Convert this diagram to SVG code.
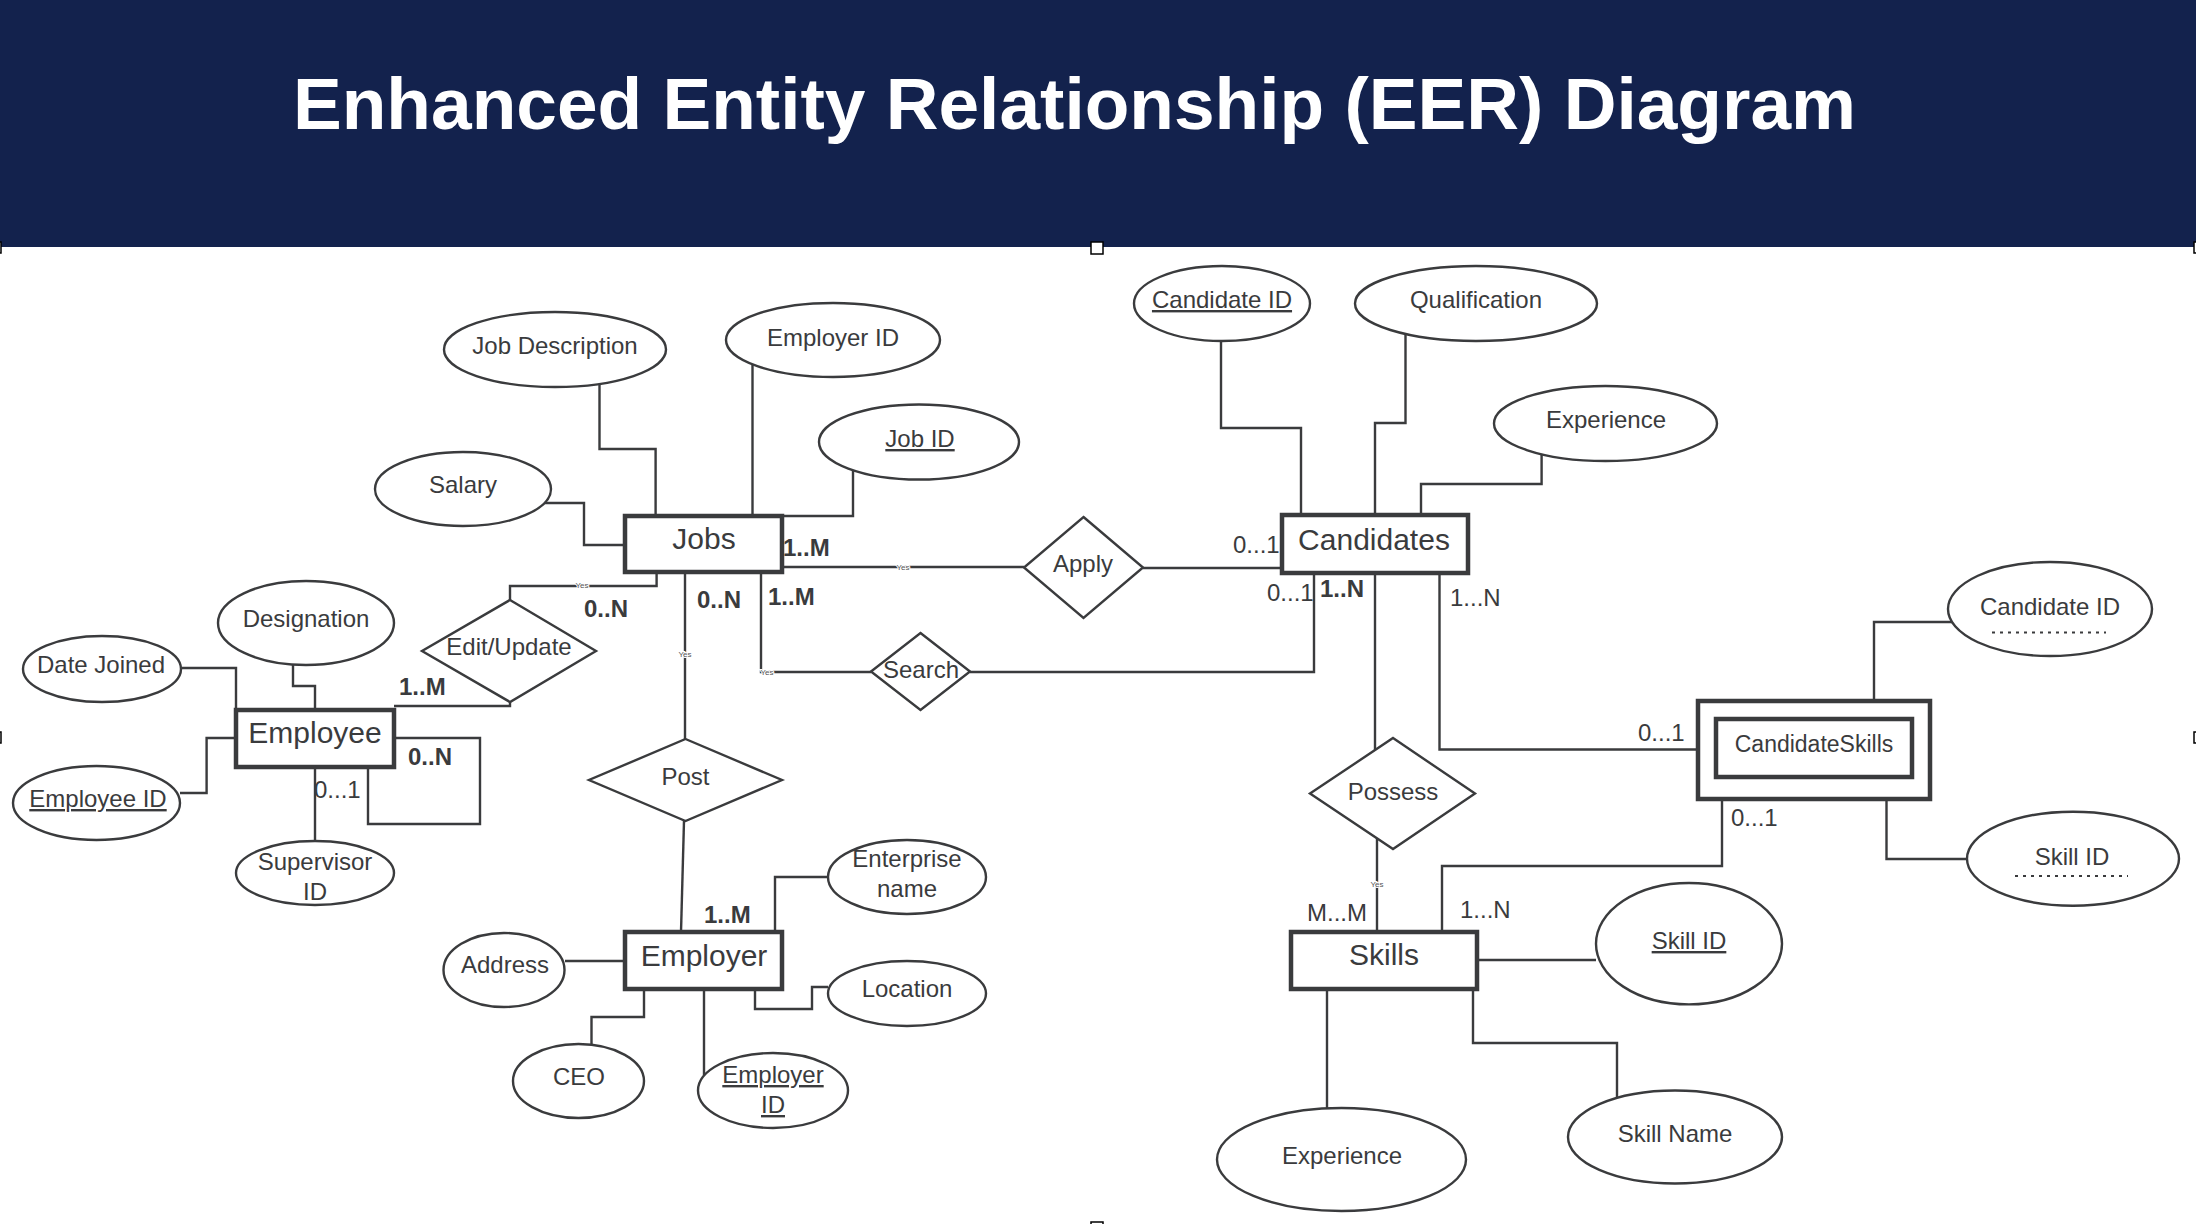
<svg xmlns="http://www.w3.org/2000/svg" width="2196" height="1224" viewBox="0 0 2196 1224">
<style>
text{font-family:"Liberation Sans",Arial,sans-serif;fill:#3a3b3d}
.t{font-size:24px;text-anchor:middle}
.e{font-size:30px;text-anchor:middle}
.c{font-size:24px}
.b{font-weight:bold}
.u{text-decoration:underline}
.yes{font-size:8px;text-anchor:middle;fill:#555;stroke:#fff;stroke-width:2px;paint-order:stroke}
.ent{fill:#fff;stroke:#3a3b3d;stroke-width:4.5}
.att{fill:#fff;stroke:#3a3b3d;stroke-width:2.4}
.rel{fill:#fff;stroke:#3a3b3d;stroke-width:2.4}
.ln{fill:none;stroke:#3a3b3d;stroke-width:2.4}
.dot{stroke:#3a3b3d;stroke-width:2;stroke-dasharray:3 5;fill:none}
.h{fill:#fff;stroke:#000;stroke-width:1.5}
</style>
<rect x="0" y="0" width="2196" height="247" fill="#13224d"/>
<text x="293" y="129" font-size="73" font-weight="bold" textLength="1563" lengthAdjust="spacingAndGlyphs" style="fill:#fff">Enhanced Entity Relationship (EER) Diagram</text>
<g id="handles">
<rect class="h" x="1091" y="242" width="12" height="12"/>
<rect class="h" x="-9" y="242" width="10" height="11"/>
<rect class="h" x="2194" y="242" width="10" height="11"/>
<rect class="h" x="-9" y="732" width="10" height="11"/>
<rect class="h" x="2194" y="732" width="10" height="11"/>
<rect class="h" x="1091" y="1222" width="12" height="10"/>
</g>
<g id="connectors">
<path class="ln" d="M599.5,384 V449 H655.6 V516"/>
<path class="ln" d="M752.5,364 V516"/>
<path class="ln" d="M853,470 V516 H782"/>
<path class="ln" d="M544.5,503 H584 V545 H625"/>
<path class="ln" d="M656.6,572 V586 H510 V600"/>
<path class="ln" d="M685,572 V739"/>
<path class="ln" d="M761,572 V672 H871"/>
<path class="ln" d="M782,567 H1024"/>
<path class="ln" d="M1143,568 H1282"/>
<path class="ln" d="M970,672 H1314 V573"/>
<path class="ln" d="M1221,341 V428 H1301 V515"/>
<path class="ln" d="M1405.5,334 V423 H1375 V515"/>
<path class="ln" d="M1541.6,454 V484 H1421 V515"/>
<path class="ln" d="M1375,573 V750"/>
<path class="ln" d="M1377,838 V932"/>
<path class="ln" d="M1439.5,573 V749.5 H1698"/>
<path class="ln" d="M1722,799 V866 H1442 V932"/>
<path class="ln" d="M1952,622 H1874 V701"/>
<path class="ln" d="M1886.5,799 V859 H1967"/>
<path class="ln" d="M1477,960 H1596"/>
<path class="ln" d="M1327,989 V1108"/>
<path class="ln" d="M1473,989 V1043 H1617 V1098"/>
<path class="ln" d="M181,668 H236 V710"/>
<path class="ln" d="M293,664 V686 H315 V710"/>
<path class="ln" d="M180,793 H206.6 V738 H236"/>
<path class="ln" d="M315,767 V841"/>
<path class="ln" d="M394,738 H480 V824 H368 V767"/>
<path class="ln" d="M394,706 H510 V702"/>
<path class="ln" d="M684,821 L681,932"/>
<path class="ln" d="M828,877 H775 V932"/>
<path class="ln" d="M828,987 H812 V1009 H755 V989"/>
<path class="ln" d="M565,961 H625"/>
<path class="ln" d="M591.5,1045 V1017 H644 V989"/>
<path class="ln" d="M704,989 V1075"/>
<text class="yes" x="582" y="588">Yes</text>
<text class="yes" x="685" y="657">Yes</text>
<text class="yes" x="767" y="675">Yes</text>
<text class="yes" x="903" y="570">Yes</text>
<text class="yes" x="1377" y="887">Yes</text>
</g>
<g id="cardinalities">
<text class="c b" x="783" y="556">1..M</text>
<text class="c b" x="584" y="617">0..N</text>
<text class="c b" x="697" y="608">0..N</text>
<text class="c b" x="768" y="605">1..M</text>
<text class="c b" x="399" y="695">1..M</text>
<text class="c b" x="408" y="765">0..N</text>
<text class="c" x="314" y="798">0...1</text>
<text class="c b" x="704" y="923">1..M</text>
<text class="c" x="1233" y="553">0...1</text>
<text class="c" x="1267" y="601">0...1</text>
<text class="c b" x="1320" y="597">1..N</text>
<text class="c" x="1450" y="606">1...N</text>
<text class="c" x="1638" y="741">0...1</text>
<text class="c" x="1731" y="826">0...1</text>
<text class="c" x="1307" y="921">M...M</text>
<text class="c" x="1460" y="918">1...N</text>
</g>
<g id="Jobs"><rect class="ent" x="625" y="516" width="157" height="56"/><text class="e" x="704" y="549">Jobs</text></g>
<g id="Candidates"><rect class="ent" x="1282" y="515" width="186" height="58"/><text class="e" x="1374" y="550">Candidates</text></g>
<g id="Employee"><rect class="ent" x="236" y="710" width="158" height="57"/><text class="e" x="315" y="743">Employee</text></g>
<g id="Employer"><rect class="ent" x="625" y="932" width="157" height="57"/><text class="e" x="704" y="966">Employer</text></g>
<g id="Skills"><rect class="ent" x="1291" y="932" width="186" height="57"/><text class="e" x="1384" y="965">Skills</text></g>
<g id="CandidateSkills"><rect class="ent" x="1698" y="701" width="232" height="98"/><rect class="ent" x="1716" y="719" width="196" height="58"/><text class="t" x="1814" y="752" style="font-size:23px">CandidateSkills</text></g>
<g id="JobDescription"><ellipse class="att" cx="555" cy="349.5" rx="111" ry="37.5"/><text class="t" x="555" y="354">Job Description</text></g>
<g id="EmployerIDTop"><ellipse class="att" cx="833" cy="340" rx="107" ry="37"/><text class="t" x="833" y="346">Employer ID</text></g>
<g id="JobID"><ellipse class="att" cx="919" cy="442" rx="100" ry="37.5"/><text class="t u" x="920" y="447">Job ID</text></g>
<g id="Salary"><ellipse class="att" cx="463" cy="489" rx="88" ry="37"/><text class="t" x="463" y="493">Salary</text></g>
<g id="Designation"><ellipse class="att" cx="306" cy="623" rx="88" ry="42"/><text class="t" x="306" y="627">Designation</text></g>
<g id="DateJoined"><ellipse class="att" cx="102" cy="669" rx="79" ry="33"/><text class="t" x="101" y="673">Date Joined</text></g>
<g id="EmployeeID"><ellipse class="att" cx="96.5" cy="803" rx="83.5" ry="37"/><text class="t u" x="98" y="807">Employee ID</text></g>
<g id="SupervisorID"><ellipse class="att" cx="315" cy="873" rx="79" ry="32"/><text class="t" x="315" y="870">Supervisor</text><text class="t" x="315" y="900">ID</text></g>
<g id="EditUpdate"><polygon class="rel" points="510,600 596,651 510,702 422,651"/><text class="t" x="509" y="655">Edit/Update</text></g>
<g id="Post"><polygon class="rel" points="685.5,739 782,780 685.5,821 589,780"/><text class="t" x="685.5" y="785">Post</text></g>
<g id="EnterpriseName"><ellipse class="att" cx="907" cy="877" rx="79" ry="37"/><text class="t" x="907" y="867">Enterprise</text><text class="t" x="907" y="897">name</text></g>
<g id="Address"><ellipse class="att" cx="504" cy="970" rx="60.5" ry="37"/><text class="t" x="505" y="973">Address</text></g>
<g id="Location"><ellipse class="att" cx="907" cy="993.5" rx="79" ry="32.5"/><text class="t" x="907" y="997">Location</text></g>
<g id="CEO"><ellipse class="att" cx="578.5" cy="1081" rx="65.5" ry="37"/><text class="t" x="579" y="1085">CEO</text></g>
<g id="EmployerIDBottom"><ellipse class="att" cx="773" cy="1090.5" rx="75" ry="37.5"/><text class="t u" x="773" y="1083">Employer</text><text class="t u" x="773" y="1113">ID</text></g>
<g id="Apply"><polygon class="rel" points="1083.5,517 1143,567.5 1083.5,618 1024,567.5"/><text class="t" x="1083" y="572">Apply</text></g>
<g id="Search"><polygon class="rel" points="920.5,633 970,671.5 920.5,710 871,671.5"/><text class="t" x="921" y="678">Search</text></g>
<g id="CandidateIDTop"><ellipse class="att" cx="1222" cy="303.5" rx="88" ry="37.5"/><text class="t u" x="1222" y="308">Candidate ID</text></g>
<g id="Qualification"><ellipse class="att" cx="1476" cy="303.5" rx="121" ry="37.5"/><text class="t" x="1476" y="308">Qualification</text></g>
<g id="ExperienceTop"><ellipse class="att" cx="1605.5" cy="423.5" rx="111.5" ry="37.5"/><text class="t" x="1606" y="428">Experience</text></g>
<g id="Possess"><polygon class="rel" points="1393,738 1475,793.6 1393,849 1310,793.6"/><text class="t" x="1393" y="800">Possess</text></g>
<g id="CandidateIDRight"><ellipse class="att" cx="2050" cy="609" rx="102" ry="47"/><text class="t" x="2050" y="615">Candidate ID</text><path class="dot" d="M1992,632.5 H2106"/></g>
<g id="SkillIDRight"><ellipse class="att" cx="2073" cy="858.7" rx="106" ry="47"/><text class="t" x="2072" y="865">Skill ID</text><path class="dot" d="M2015,876 H2128"/></g>
<g id="SkillID"><ellipse class="att" cx="1689" cy="943.7" rx="93" ry="60.7"/><text class="t u" x="1689" y="949">Skill ID</text></g>
<g id="SkillName"><ellipse class="att" cx="1675" cy="1137" rx="107" ry="46.5"/><text class="t" x="1675" y="1142">Skill Name</text></g>
<g id="ExperienceBottom"><ellipse class="att" cx="1341.5" cy="1159.5" rx="124.5" ry="51.5"/><text class="t" x="1342" y="1164">Experience</text></g>
</svg>
